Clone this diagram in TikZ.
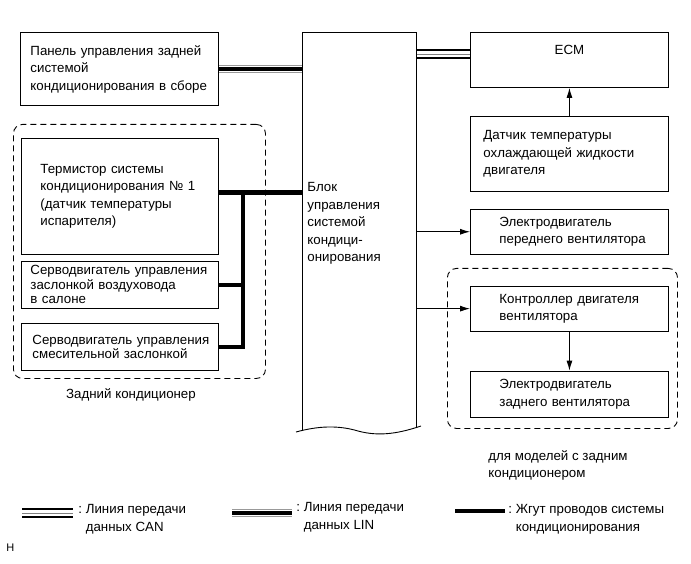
\documentclass[tikz,border=0pt]{standalone}
\usepackage{fontspec}
\setmainfont{Liberation Sans}
\usepackage{tikz}
\usetikzlibrary{positioning}
\usetikzlibrary{calc}
\usetikzlibrary{arrows.meta}
\tikzstyle{block} = [draw, rectangle, anchor=north west, align=left, inner ysep=3pt, minimum height=45pt]
\tikzstyle{group} = [draw, rectangle, rounded corners=9pt, dash pattern=on 6pt off 4pt, anchor=north west]
\tikzstyle{txt} = [anchor=north west, align=left, inner sep=0pt]
\tikzstyle{can} = [preaction={draw=black, line width=10pt}, preaction={draw=white, line width=6pt}, draw=gray, line width=0.8pt]
\tikzstyle{lin} = [preaction={draw=gray!80, line width=8pt}, preaction={draw=white, line width=6pt}, draw=black, line width=3.5pt]
\tikzstyle{harness} = [draw=black, line width=4.5pt]

\begin{document}
\begin{tikzpicture}[x=1pt, y=-1pt, >={Latex[length=10pt,width=6pt]}, line width=0.9pt, font=\fontsize{13.3}{17.5}\selectfont]
    \useasboundingbox (0,0) rectangle (691,564);

    \node [block, text width=178pt, inner xsep=10pt, minimum height=73pt] (panel) at (20,32) {Панель управления задней\\системой\\\mbox{кондиционирования в сборе}};

    \node [anchor=north west, inner sep=0pt, minimum width=114pt, minimum height=398pt] (ctrl) at (302,32) {};
    \node [txt] (ctrltext) at (307,182) {Блок\\управления\\системой\\кондици-\\онирования};
    \draw (ctrl.south west) -- (ctrl.north west) -- (ctrl.north east) -- ([yshift=2.5pt]ctrl.south east);
    \draw (296,432) .. controls (318,426) and (338,425) .. (358,431) .. controls (380,437) and (400,433) .. (421,426);

    \node [block, text width=198pt, inner xsep=0pt, align=center, minimum height=55pt, text depth=19.5pt] (ecm) at (470,32) {ECM};
    \node [block, text width=172pt, inner xsep=13pt, minimum height=75pt, below=28pt of ecm] (sensor) {Датчик температуры\\охлаждающей жидкости\\двигателя};
    \node [block, text width=140pt, inner xsep=29pt, below=17pt of sensor] (ffan) {Электродвигатель\\\mbox{переднего вентилятора}};
    \node [group, minimum width=230pt, minimum height=160pt] (optgroup) at (447,268) {};
    \node [block, text width=140pt, inner xsep=29pt, below=31pt of ffan] (fctrl) {\mbox{Контроллер двигателя}\\вентилятора};
    \node [block, text width=140pt, inner xsep=29pt, minimum height=46pt, below=39pt of fctrl] (rfan) {Электродвигатель\\заднего вентилятора};
    \node [txt] (optlabel) at (488,450) {для моделей с задним\\кондиционером};

    \node [group, minimum width=252pt, minimum height=254pt] (reargroup) at (13,124) {};
    \node [block, text width=159pt, inner xsep=19pt, minimum height=116pt] (thermo) at (21,138) {Термистор системы\\кондиционирования №~1\\(датчик температуры\\испарителя)};
    \node [block, text width=179pt, inner xsep=9pt, minimum height=47pt, below=6pt of thermo, font=\fontsize{13.3}{14.5}\selectfont] (servoA) {\mbox{Серводвигатель управления}\\заслонкой воздуховода\\в салоне};
    \node [block, text width=175pt, inner xsep=11pt, minimum height=47pt, below=14pt of servoA, font=\fontsize{13.3}{14.5}\selectfont] (servoB) {\mbox{Серводвигатель управления}\\смесительной заслонкой};
    \node [txt, anchor=north] (rearlabel) at (131,388) {Задний кондиционер};

    \coordinate (canR) at ([yshift=5.5pt]ecm.west);
    \coordinate (bus) at ([xshift=24pt,yshift=4pt]thermo.east);

    \draw [lin] (panel.east) -- (panel.east -| ctrl.west);
    \draw [can] (canR -| ctrl.east) -- (canR);
    \draw [->] (sensor) -- (ecm);
    \draw [->] (ffan.west -| ctrl.east) -- (ffan.west);
    \draw [->] (fctrl.west -| ctrl.east) -- (fctrl.west);
    \draw [->] (fctrl) -- (rfan);

    \draw [harness] ([yshift=4pt]thermo.east) -- ([yshift=4pt]thermo.east -| ctrl.west);
    \draw [harness] (servoB.east) -| (bus);
    \draw [harness] (servoA.east) -- (servoA.east -| bus);

    \draw [can] (22,513) -- (73,513);
    \node [txt] (canlabel) at (78,504) {:~Линия передачи\\\phantom{:~}данных CAN};
    \draw [lin] (232,513) -- (292,513);
    \node [txt] (linlabel) at (296,502) {:~Линия передачи\\\phantom{:~}данных LIN};
    \draw [harness] (455,511) -- (505,511);
    \node [txt] (harnesslabel) at (508,504) {:~Жгут проводов системы\\\phantom{:~}кондиционирования};

    \node [txt, font=\fontsize{11}{13}\selectfont] (code) at (6,543) {H};
\end{tikzpicture}
\end{document}
